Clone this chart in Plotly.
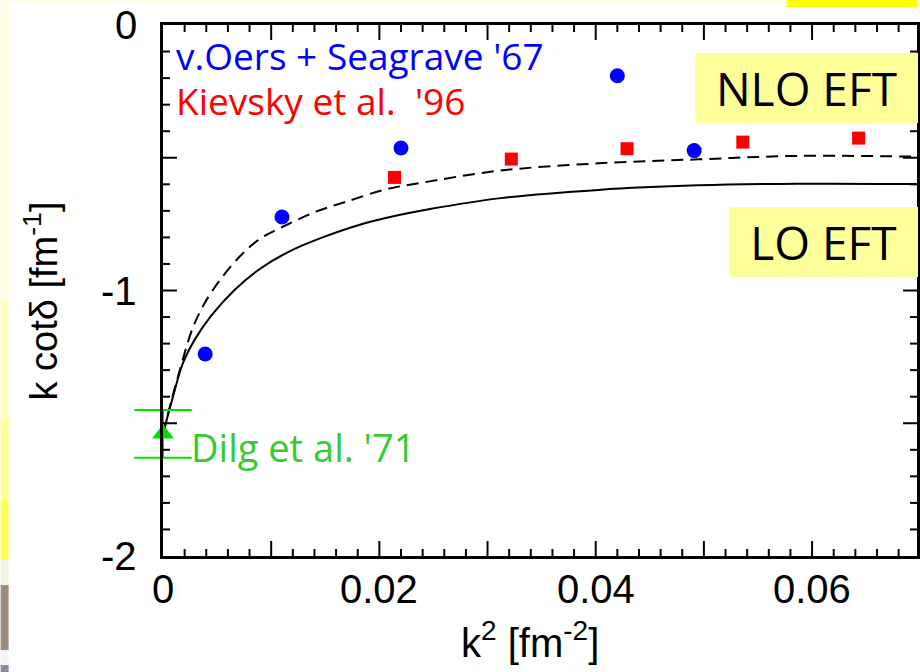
import plotly.graph_objects as go

# n-d doublet S-wave: k cot(delta) versus k^2
oers_k2 = [0.0039, 0.0110, 0.0220, 0.0420, 0.0491]
oers_kcot = [-1.239, -0.723, -0.463, -0.191, -0.473]

kievsky_k2 = [0.0214, 0.0322, 0.0429, 0.0536, 0.0643]
kievsky_kcot = [-0.574, -0.505, -0.466, -0.441, -0.426]

dilg_k2 = [0.0]
dilg_kcot = [-1.54]
dilg_err = [0.09]

lo_k2 = [0.0, 0.00092, 0.00184, 0.00292, 0.00446, 0.00661, 0.00891, 0.01152,
         0.01475, 0.01813, 0.02182, 0.02458, 0.03103, 0.04025, 0.04947,
         0.05868, 0.06974]
lo_kcot = [-1.54, -1.400, -1.274, -1.186, -1.095, -0.998, -0.920, -0.856,
           -0.800, -0.753, -0.716, -0.694, -0.653, -0.621, -0.604,
           -0.598, -0.599]

nlo_k2 = [0.0, 0.00138, 0.00292, 0.00461, 0.00707, 0.00891, 0.01122, 0.01414,
          0.01690, 0.02059, 0.02366, 0.03103, 0.04025, 0.04947, 0.05868,
          0.06974]
nlo_kcot = [-1.54, -1.325, -1.124, -0.998, -0.873, -0.807, -0.757, -0.703,
            -0.666, -0.619, -0.596, -0.549, -0.521, -0.506, -0.493,
            -0.496]

x_label_vals = [0, 0.02, 0.04, 0.06]
x_label_text = ["0", "0.02", "0.04", "0.06"]
y_label_vals = [0, -1, -2]
y_label_text = ["0", "-1", "-2"]

# tick marks: long every 0.01 / 0.5, short every 0.002 / 0.1
x_major_vals = [round(0.01 * i, 3) for i in range(1, 7)]
x_minor_vals = [round(0.002 * i, 3) for i in range(1, 35) if i % 5]
y_major_vals = [-0.5, -1.0, -1.5]
y_minor_vals = [round(-0.1 * i, 1) for i in range(1, 20) if i % 5]

X_RANGE = [0, 0.0697]
Y_RANGE = [-2, 0]

W, H = 920, 672
ML, MR, MT, MB = 163, 0, 25, 116
PW, PH = W - ML - MR, H - MT - MB


def px_x(px):
    return (px - ML) / PW


def px_y(py):
    return (H - MB - py) / PH


HAND = "Comic Sans MS, Open Sans, sans-serif"
SANS = "Liberation Sans, Arial, sans-serif"
GREEN = "#00E000"

fig = go.Figure()

fig.add_trace(go.Scatter(
    x=lo_k2, y=lo_kcot, mode="lines",
    line=dict(color="black", width=2, shape="spline", smoothing=1.0),
    hoverinfo="skip"))
fig.add_trace(go.Scatter(
    x=nlo_k2, y=nlo_kcot, mode="lines",
    line=dict(color="black", width=2, dash="12px,7px", shape="spline", smoothing=1.0),
    hoverinfo="skip"))
fig.add_trace(go.Scatter(
    x=oers_k2, y=oers_kcot, mode="markers",
    marker=dict(symbol="circle", size=15, color="#0000FF")))
fig.add_trace(go.Scatter(
    x=kievsky_k2, y=kievsky_kcot, mode="markers",
    marker=dict(symbol="square", size=13, color="#FF0000")))

# Dilg point: error caps drawn as unclipped horizontal line markers
cap_k2 = dilg_k2 * 2
cap_kcot = [dilg_kcot[0] - dilg_err[0], dilg_kcot[0] + dilg_err[0]]
fig.add_trace(go.Scatter(
    x=cap_k2, y=cap_kcot, mode="markers", cliponaxis=False,
    marker=dict(symbol="line-ew", size=41, color=GREEN,
                line=dict(color=GREEN, width=2)),
    hoverinfo="skip"))
fig.add_trace(go.Scatter(
    x=dilg_k2, y=dilg_kcot, mode="markers", cliponaxis=False,
    marker=dict(symbol="triangle-up", size=19, color=GREEN),
    error_y=dict(type="data", array=dilg_err, color=GREEN,
                 thickness=2, width=0)))

frame = dict(
    showline=True, linewidth=2.5, linecolor="black", mirror=True,
    ticks="", showgrid=False, zeroline=False, showticklabels=False,
)
fig.update_layout(
    xaxis=dict(range=X_RANGE, **frame),
    yaxis=dict(range=Y_RANGE, **frame),
)

# slide background pieces around the plot
strip = [
    (0, 300, "#FFFEE2"), (300, 420, "#FFFFC4"), (420, 500, "#FFFF94"),
    (500, 560, "#FFFF55"), (560, 585, "#F2F2E2"), (585, 650, "#9C8C7A"),
    (650, 665, "#F4F4F4"), (665, 672, "#8E88A0"),
]
shapes = []
for y0, y1, col in strip:
    shapes.append(dict(type="rect", xref="paper", yref="paper",
                       x0=px_x(0), x1=px_x(8), y0=px_y(y1), y1=px_y(y0),
                       fillcolor=col, line=dict(width=0), layer="below"))
shapes.append(dict(type="rect", xref="paper", yref="paper",
                   x0=px_x(8), x1=px_x(789), y0=px_y(2), y1=px_y(0),
                   fillcolor="#FFFDE6", line=dict(width=0), layer="below"))
shapes.append(dict(type="rect", xref="paper", yref="paper",
                   x0=px_x(789), x1=px_x(920), y0=px_y(7), y1=px_y(0),
                   fillcolor="#FFFF00", line=dict(width=0), layer="below"))

# inward tick marks on all four sides
TICK = dict(color="black", width=2)


def x_ticks(vals, length):
    for v in vals:
        shapes.append(dict(type="line", xref="x", yref="paper", x0=v, x1=v,
                           y0=0, y1=length / PH, line=TICK))
        shapes.append(dict(type="line", xref="x", yref="paper", x0=v, x1=v,
                           y0=1 - length / PH, y1=1, line=TICK))


def y_ticks(vals, length):
    for v in vals:
        shapes.append(dict(type="line", xref="paper", yref="y", x0=0,
                           x1=length / PW, y0=v, y1=v, line=TICK))
        shapes.append(dict(type="line", xref="paper", yref="y",
                           x0=1 - length / PW, x1=1, y0=v, y1=v, line=TICK))


x_ticks(x_major_vals, 15)
x_ticks(x_minor_vals, 7)
y_ticks(y_major_vals, 14)
y_ticks(y_minor_vals, 7)

annotations = []
# axis numbers
for v, t in zip(x_label_vals, x_label_text):
    annotations.append(dict(text=t, xref="x", yref="paper", x=v, y=px_y(589),
                            showarrow=False, xanchor="center", yanchor="middle",
                            font=dict(family=SANS, size=40, color="black")))
for v, t in zip(y_label_vals, y_label_text):
    annotations.append(dict(text=t, xref="paper", yref="y", x=px_x(139), y=v,
                            showarrow=False, xanchor="right", yanchor="middle",
                            font=dict(family=SANS, size=40, color="black")))

annotations += [
    dict(text="k cotδ [fm<sup>-1</sup>]", xref="paper", yref="paper",
         x=px_x(41), y=px_y(301), textangle=-90, showarrow=False,
         xanchor="center", yanchor="middle",
         font=dict(family=SANS, size=38, color="black")),
    dict(text="k<sup>2</sup> [fm<sup>-2</sup>]", xref="paper", yref="paper",
         x=px_x(531), y=px_y(640), showarrow=False,
         xanchor="center", yanchor="middle",
         font=dict(family=SANS, size=40, color="black")),
    dict(text="v.Oers + Seagrave '67", xref="paper", yref="paper",
         x=px_x(174), y=px_y(55), showarrow=False,
         xanchor="left", yanchor="middle",
         font=dict(family=HAND, size=37, color="#0000FF")),
    dict(text="Kievsky et al.\u00a0\u00a0'96", xref="paper", yref="paper",
         x=px_x(174), y=px_y(100), showarrow=False,
         xanchor="left", yanchor="middle",
         font=dict(family=HAND, size=37, color="#FF0000")),
    dict(text="Dilg et al. '71", xref="paper", yref="paper",
         x=px_x(189), y=px_y(447), showarrow=False,
         xanchor="left", yanchor="middle",
         font=dict(family=HAND, size=38, color="#33CC33")),
    dict(text="NLO EFT", xref="paper", yref="paper",
         x=px_x(697), y=px_y(53), showarrow=False,
         xanchor="left", yanchor="top", width=223, height=70,
         bgcolor="#FFFF99", borderpad=0, borderwidth=0, align="center",
         valign="middle",
         font=dict(family=HAND, size=46, color="black")),
    dict(text="LO EFT", xref="paper", yref="paper",
         x=px_x(731), y=px_y(207), showarrow=False,
         xanchor="left", yanchor="top", width=189, height=70,
         bgcolor="#FFFF99", borderpad=0, borderwidth=0, align="center",
         valign="middle",
         font=dict(family=HAND, size=46, color="black")),
]

fig.update_layout(
    width=W, height=H,
    margin=dict(l=ML, r=MR, t=MT, b=MB, pad=0),
    paper_bgcolor="white", plot_bgcolor="white",
    showlegend=False,
    shapes=shapes, annotations=annotations,
)

fig.write_html("out.html")
